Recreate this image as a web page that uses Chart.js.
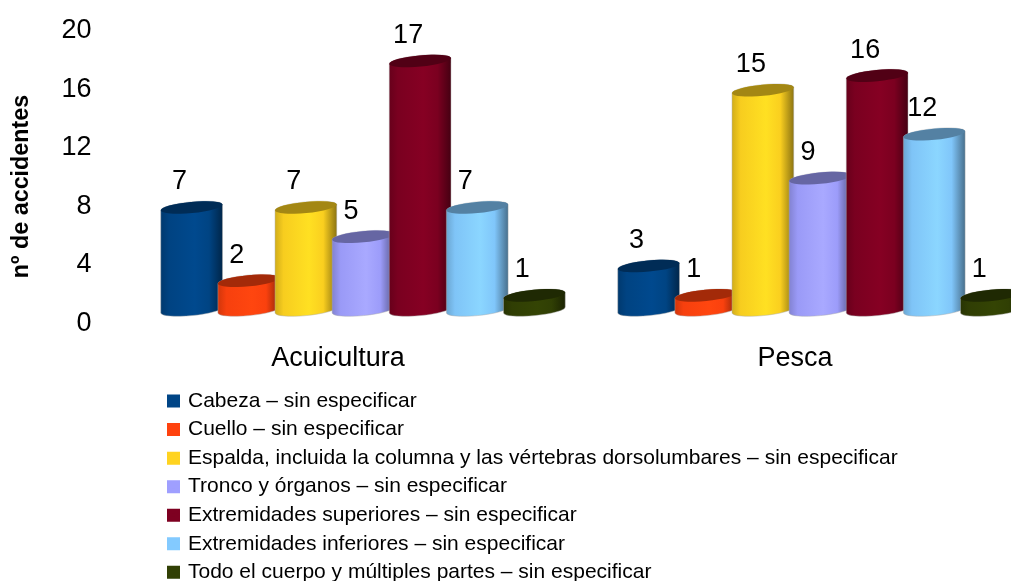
<!DOCTYPE html>
<html><head><meta charset="utf-8">
<style>html,body{margin:0;padding:0;background:#fff;overflow:hidden}canvas{display:block}</style>
<script src="https://cdn.jsdelivr.net/npm/chart.js@4"></script>
</head><body><canvas id="c" width="1011" height="581"></canvas>
<script>
const categories = ["Acuicultura", "Pesca"];
const cabeza = [7, 3];
const cuello = [2, 1];
const espalda = [7, 15];
const tronco = [5, 9];
const superiores = [17, 16];
const inferiores = [7, 12];
const todo = [1, 1];
const seriesNames = [
  "Cabeza – sin especificar",
  "Cuello – sin especificar",
  "Espalda, incluida la columna y las vértebras dorsolumbares – sin especificar",
  "Tronco y órganos – sin especificar",
  "Extremidades superiores – sin especificar",
  "Extremidades inferiores – sin especificar",
  "Todo el cuerpo y múltiples partes – sin especificar"
];
const seriesValues = [cabeza, cuello, espalda, tronco, superiores, inferiores, todo];
const seriesColors = ["#004586", "#ff420e", "#ffd320", "#9f9fff", "#7e0021", "#83caff", "#314004"];
const FONT = '"Liberation Sans", Arial, sans-serif';

function shade(hex, f) {
  const n = parseInt(hex.slice(1), 16);
  const ch = s => Math.max(0, Math.min(255, Math.round(((n >> s) & 255) * f)));
  return `rgb(${ch(16)},${ch(8)},${ch(0)})`;
}

const cylinders = {
  id: "cylinders",
  beforeDatasetsDraw(chart) {
    const ctx = chart.ctx;
    const tilt = -5.5 * Math.PI / 180, ry = 5.6;
    chart.data.datasets.forEach((ds, di) => {
      chart.getDatasetMeta(di).data.forEach(el => {
        const rx = el.width * 1.085 / 2, x = el.x, y = el.y, b = el.base;
        const g = ctx.createLinearGradient(x - rx, 0, x + rx, 0);
        const col = ds.backgroundColor;
        g.addColorStop(0, shade(col, 0.82));
        g.addColorStop(0.14, shade(col, 0.97));
        g.addColorStop(0.55, shade(col, 1.06));
        g.addColorStop(0.78, shade(col, 0.98));
        g.addColorStop(1, shade(col, 0.55));
        ctx.save();
        ctx.beginPath();
        ctx.ellipse(x, b, rx, ry, tilt, 0, Math.PI);
        ctx.ellipse(x, y, rx, ry, tilt, Math.PI, 2 * Math.PI);
        ctx.closePath();
        ctx.fillStyle = g;
        ctx.fill();
        ctx.strokeStyle = "rgba(170,170,170,0.45)";
        ctx.lineWidth = 1;
        ctx.stroke();
        ctx.beginPath();
        ctx.ellipse(x, y, rx, ry, tilt, 0, 2 * Math.PI);
        ctx.fillStyle = shade(col, 0.64);
        ctx.fill();
        ctx.restore();
      });
    });
    return false;
  },
  afterDraw(chart) {
    const ctx = chart.ctx;
    ctx.save();
    ctx.font = "27px " + FONT;
    ctx.fillStyle = "#000";
    ctx.textAlign = "center";
    ctx.textBaseline = "middle";
    chart.data.datasets.forEach((ds, di) => {
      chart.getDatasetMeta(di).data.forEach((el, i) => {
        ctx.fillText(String(ds.data[i]), el.x - 12, el.y - 25.5);
      });
    });
    ctx.restore();
  },
  afterLayout(chart) {
    const l = chart.legend;
    l.left = 161.95; l.top = 383; l.right = 1011; l.bottom = 2000;
    const x = chart.scales.x;
    x.left = 134.5; x.right = 1048.5; x.width = x.right - x.left;
    x.configure();
    x._labelItems = null;
    const y = chart.scales.y;
    if (!y._titleShifted) {
      y._titleShifted = true;
      const orig = y.drawTitle;
      y.drawTitle = function () {
        chart.ctx.save();
        chart.ctx.translate(0, 23);
        orig.call(this);
        chart.ctx.restore();
      };
    }
  }
};

new Chart(document.getElementById("c"), {
  type: "bar",
  data: {
    labels: categories,
    datasets: seriesNames.map((n, i) => ({
      label: n, data: seriesValues[i],
      backgroundColor: seriesColors[i], borderColor: seriesColors[i], borderWidth: 5
    }))
  },
  plugins: [cylinders],
  options: {
    responsive: false,
    animation: false,
    events: [],
    layout: { padding: { top: 17, right: 0, left: 0, bottom: 0 } },
    datasets: { bar: { barPercentage: 1, categoryPercentage: 0.875 } },
    scales: {
      x: {
        grid: { display: false, drawTicks: true, tickLength: 32 }, border: { display: false },
        ticks: { color: "#000", font: { family: FONT, size: 27 }, padding: 0, labelOffset: -25, maxRotation: 0, autoSkip: false },
        afterFit(s) { s.height = 271; }
      },
      y: {
        min: 0, max: 20,
        grid: { display: false, drawTicks: true, tickLength: 43 }, border: { display: false },
        title: { display: true, text: "nº de accidentes", color: "#000", font: { family: FONT, size: 23.3, weight: "bold" }, padding: { top: 7, bottom: 0 } },
        ticks: { stepSize: 4, color: "#000", font: { family: FONT, size: 27 }, padding: 0, labelOffset: 13.5 },
        afterFit(s) { s.width = 133.5; }
      }
    },
    plugins: {
      tooltip: { enabled: false },
      legend: {
        position: "left", align: "start", maxWidth: 1,
        labels: { color: "#000", font: { family: FONT, size: 21 }, boxWidth: 8, boxHeight: 8, padding: 7.55 }
      }
    }
  }
});
</script></body></html>
